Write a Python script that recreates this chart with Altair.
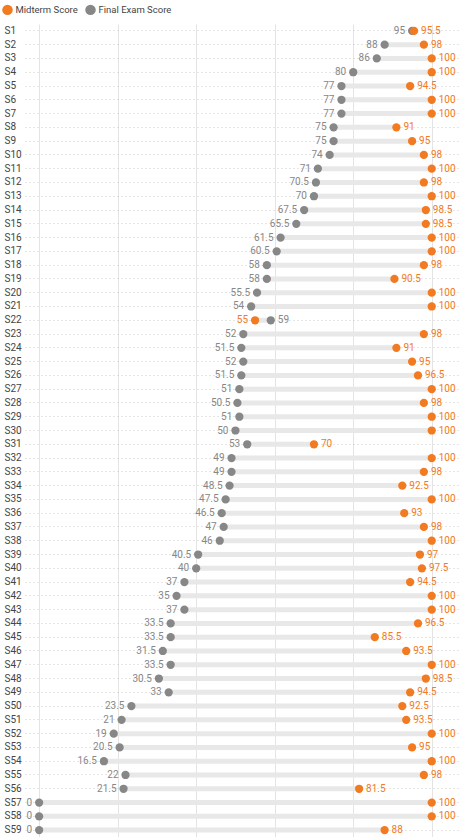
import altair as alt
import pandas as pd

# Students, top to bottom
students = [
    "S1", "S2", "S3", "S4", "S5", "S6", "S7", "S8", "S9", "S10",
    "S11", "S12", "S13", "S14", "S15", "S16", "S17", "S18", "S19", "S20",
    "S21", "S22", "S23", "S24", "S25", "S26", "S27", "S28", "S29", "S30",
    "S31", "S32", "S33", "S34", "S35", "S36", "S37", "S38", "S39", "S40",
    "S41", "S42", "S43", "S44", "S45", "S46", "S47", "S48", "S49", "S50",
    "S51", "S52", "S53", "S54", "S55", "S56", "S57", "S58", "S59",
]

final_scores = [
    95, 88, 86, 80, 77, 77, 77, 75, 75, 74,
    71, 70.5, 70, 67.5, 65.5, 61.5, 60.5, 58, 58, 55.5,
    54, 59, 52, 51.5, 52, 51.5, 51, 50.5, 51, 50,
    53, 49, 49, 48.5, 47.5, 46.5, 47, 46, 40.5, 40,
    37, 35, 37, 33.5, 33.5, 31.5, 33.5, 30.5, 33, 23.5,
    21, 19, 20.5, 16.5, 22, 21.5, 0, 0, 0,
]

midterm_scores = [
    95.5, 98, 100, 100, 94.5, 100, 100, 91, 95, 98,
    100, 98, 100, 98.5, 98.5, 100, 100, 98, 90.5, 100,
    100, 55, 98, 91, 95, 96.5, 100, 98, 100, 100,
    70, 100, 98, 92.5, 100, 93, 98, 100, 97, 97.5,
    94.5, 100, 100, 96.5, 85.5, 93.5, 100, 98.5, 94.5, 92.5,
    93.5, 100, 95, 100, 98, 81.5, 100, 100, 88,
]

ORANGE = "#F27A21"
GREY = "#878787"
FONT = "Roboto"

wide = pd.DataFrame({"student": students, "final": final_scores, "midterm": midterm_scores})

rows = []
for s, f, m in zip(students, final_scores, midterm_scores):
    final_left = f <= m
    rows.append({"student": s, "series": "Final Exam Score", "score": f,
                 "side": "left" if final_left else "right", "label": f"{f:g}"})
    rows.append({"student": s, "series": "Midterm Score", "score": m,
                 "side": "right" if final_left else "left", "label": f"{m:g}"})
long = pd.DataFrame(rows)

x_scale = alt.Scale(domain=[-3.6, 107.2], nice=False, zero=False)
color_scale = alt.Scale(domain=["Midterm Score", "Final Exam Score"], range=[ORANGE, GREY])

x_axis = alt.Axis(title=None, labels=False, ticks=False, domain=False,
                  values=[0, 20, 40, 60, 80, 100], grid=True, gridColor="#e4e4e4")
y_axis = alt.Axis(title=None, ticks=False, domain=False, labelAlign="left",
                  labelPadding=21, labelFontSize=10, labelColor="#444444",
                  labelFont=FONT, labelFontWeight="normal",
                  grid=True, gridDash=[1, 3], gridColor="#cccccc")

y_enc = alt.Y("student:N", sort=students, axis=y_axis)

bars = alt.Chart(wide).mark_rule(strokeWidth=5, color="#e8e8e8").encode(
    x=alt.X("final:Q", scale=x_scale, axis=x_axis),
    x2="midterm:Q",
    y=y_enc,
)

dots = alt.Chart(long).mark_circle(size=68, opacity=1).encode(
    x=alt.X("score:Q", scale=x_scale, axis=x_axis),
    y=y_enc,
    color=alt.Color(
        "series:N", scale=color_scale,
        legend=alt.Legend(
            title=None, orient="none", legendX=-23.5, legendY=-20.5,
            direction="horizontal", symbolType="circle", symbolSize=110,
            labelFontSize=9.5, labelFont=FONT, labelColor="#444444",
            labelOffset=2, columnPadding=6, padding=0,
        ),
    ),
)

def value_labels(side, align, dx):
    return alt.Chart(long).transform_filter(f"datum.side == '{side}'").mark_text(
        align=align, baseline="middle", dx=dx, fontSize=10, font=FONT
    ).encode(
        x=alt.X("score:Q", scale=x_scale, axis=x_axis),
        y=y_enc,
        text="label:N",
        color=alt.Color("series:N", scale=color_scale, legend=None),
    )

chart = alt.layer(
    bars, dots, value_labels("left", "right", -7), value_labels("right", "left", 7)
).properties(
    width=435, height=813,
    autosize=alt.AutoSizeParams(type="none"),
    padding={"left": 25, "top": 24, "right": 0, "bottom": 0},
).configure_view(stroke=None)

chart.save("out.html", embed_options={"renderer": "svg", "actions": False})
